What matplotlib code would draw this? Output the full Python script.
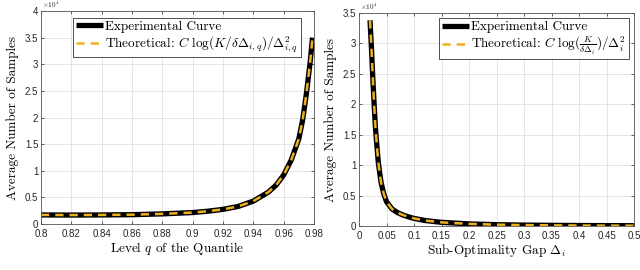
import numpy as np
import matplotlib.pyplot as plt

# left panel: level q of the quantile vs samples
q_level = [0.80, 0.82, 0.84, 0.86, 0.88, 0.90, 0.91, 0.92, 0.93, 0.94,
           0.95, 0.955, 0.96, 0.965, 0.97, 0.9725, 0.975, 0.9775, 0.979]
q_samples = [1700, 1680, 1700, 1750, 1900, 2150, 2400, 2750, 3300, 4300,
             6000, 7300, 9200, 12000, 16000, 19500, 24500, 30500, 35000]

# right panel: sub-optimality gap vs samples
gap = [0.02, 0.0225, 0.025, 0.0275, 0.03, 0.035, 0.04, 0.045, 0.05, 0.06,
       0.07, 0.08, 0.09, 0.1, 0.12, 0.15, 0.2, 0.25, 0.3, 0.35, 0.4, 0.45, 0.5]
gap_samples = [33800, 29500, 24500, 20000, 16000, 10500, 7200, 5300, 4000, 2800,
               2200, 1800, 1500, 1250, 900, 600, 350, 220, 150, 110, 80, 60, 50]

left_xticks = [0.8, 0.82, 0.84, 0.86, 0.88, 0.9, 0.92, 0.94, 0.96, 0.98]
left_xlabels = ['0.8', '0.82', '0.84', '0.86', '0.88', '0.9', '0.92', '0.94', '0.96', '0.98']
right_xticks = [0, 0.05, 0.1, 0.15, 0.2, 0.25, 0.3, 0.35, 0.4, 0.45, 0.5]
right_xlabels = ['0', '0.05', '0.1', '0.15', '0.2', '0.25', '0.3', '0.35', '0.4', '0.45', '0.5']

plt.rcParams['mathtext.fontset'] = 'cm'
plt.rcParams['font.family'] = ['Liberation Sans', 'DejaVu Sans']

serif = 'cmr10'
tick_col = '#262626'
gold = '#EDB120'

fig = plt.figure(figsize=(6.4, 2.7), dpi=100)
ax1 = fig.add_axes([41 / 640, 1 - 224 / 270, 273 / 640, 213 / 270])
ax2 = fig.add_axes([359 / 640, 1 - 226 / 270, 275 / 640, 213 / 270])


def style(ax, xticks, xlabels, ymax, xlabel):
    ax.set_xticks(xticks)
    ax.set_xticklabels(xlabels)
    yt = np.arange(0, ymax + 1, 5000)
    ax.set_yticks(yt)
    ax.set_yticklabels(['0' if v == 0 else ('%g' % (v / 1e4)) for v in yt])
    ax.set_ylim(0, ymax)
    ax.grid(True, color='#e0e0e0', linewidth=0.6)
    ax.set_axisbelow(True)
    ax.tick_params(direction='in', length=2.5, width=0.5, labelsize=7,
                   colors=tick_col, top=True, right=True)
    ax.tick_params(axis='x', pad=3.5)
    ax.tick_params(axis='y', pad=2)
    for sp in ax.spines.values():
        sp.set_color('#555555')
        sp.set_linewidth(0.6)
    ax.set_xlabel(xlabel, fontsize=9.5, family=serif, labelpad=1)
    ax.set_ylabel('Average Number of Samples', fontsize=9.5, family=serif, labelpad=4)
    ax.annotate(r'$\times10^4$', xy=(0, 1), xycoords='axes fraction',
                xytext=(1, 2.5), textcoords='offset points', fontsize=5.2,
                color=tick_col, ha='left', va='baseline', family='DejaVu Sans')


leg_kw = dict(prop={'family': serif, 'size': 9.5}, handlelength=2.1,
              handletextpad=0.15, borderpad=0.2, labelspacing=0.1,
              borderaxespad=0, fancybox=False, framealpha=1, edgecolor='#333333')

ax1.plot(q_level, q_samples, color='black', linewidth=3.8, solid_capstyle='butt',
         label='Experimental Curve')
ax1.plot(q_level, q_samples, color=gold, linewidth=1.8, dashes=(3.3, 2.4),
         label=r'Theoretical: $C\ \log(K/\delta\Delta_{i,q})/\Delta_{i,q}^2$')
ax1.set_xlim(0.8, 0.98)
style(ax1, left_xticks, left_xlabels, 40000, r'Level $q$ of the Quantile')
leg1 = ax1.legend(loc='upper left', bbox_to_anchor=(0.117, 0.967), **leg_kw)
leg1.get_frame().set_linewidth(0.6)

ax2.plot(gap, gap_samples, color='black', linewidth=3.8, solid_capstyle='butt',
         label='Experimental Curve')
ax2.plot(gap, gap_samples, color=gold, linewidth=1.8, dashes=(3.3, 2.4),
         label=r'Theoretical: $C\ \log(\frac{K}{\delta\Delta_i})/\Delta_i^2$')
ax2.set_xlim(0, 0.5)
style(ax2, right_xticks, right_xlabels, 35000, r'Sub-Optimality Gap $\Delta_i$')
leg2 = ax2.legend(loc='upper right', bbox_to_anchor=(0.98, 0.975), **leg_kw)
leg2.get_frame().set_linewidth(0.6)

fig.savefig('out.png', dpi=100)
